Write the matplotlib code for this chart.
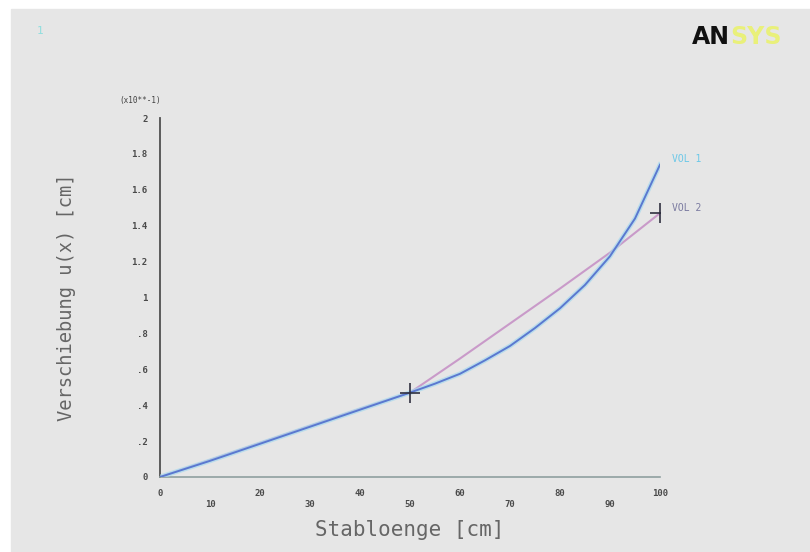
import matplotlib
matplotlib.use("Agg")
import matplotlib.pyplot as plt
from matplotlib.patches import Rectangle

# data (y values in units of 10**-1 cm)
x_vol1 = [0, 10, 20, 30, 40, 50, 55, 60, 65, 70, 75, 80, 85, 90, 95, 100]
y_vol1 = [0, 0.09, 0.185, 0.28, 0.375, 0.47, 0.52, 0.575, 0.65, 0.73, 0.83, 0.94, 1.07, 1.23, 1.44, 1.74]
x_vol2 = [0, 10, 20, 30, 40, 50, 60, 70, 80, 90, 100]
y_vol2 = [0, 0.095, 0.19, 0.285, 0.38, 0.47, 0.66, 0.855, 1.05, 1.25, 1.47]
mark_x = [50, 100]
mark_y = [0.47, 1.47]
xticks = [0, 10, 20, 30, 40, 50, 60, 70, 80, 90, 100]
yticks = [0, 0.2, 0.4, 0.6, 0.8, 1.0, 1.2, 1.4, 1.6, 1.8, 2.0]
ylabels = ["0", ".2", ".4", ".6", ".8", "1", "1.2", "1.4", "1.6", "1.8", "2"]

W, H = 810, 552
fig = plt.figure(figsize=(W / 100, H / 100), dpi=100)
fig.patch.set_facecolor("white")
bg = Rectangle((11 / W, 0), 1 - 11 / W, 1 - 9 / H,
               transform=fig.transFigure, color="#e6e6e6", zorder=-10)
fig.add_artist(bg)

ax = fig.add_axes([160 / W, (H - 477) / H, 500 / W, 359 / H])
ax.patch.set_alpha(0)

mono = "DejaVu Sans Mono"

ax.plot(x_vol2, y_vol2, color="#c99ac9", lw=1.5, zorder=2)
ax.plot(x_vol1, y_vol1, color="#a6d8ee", lw=3.4, alpha=0.7, zorder=3)
ax.plot(x_vol1, y_vol1, color="#5a78d0", lw=1.4, zorder=4)
ax.plot(mark_x, mark_y, ls="none", marker="+", ms=14, mew=1.2, color="#303040", zorder=5)

ax.set_xlim(0, 100)
ax.set_ylim(0, 2)
for s in ["top", "right"]:
    ax.spines[s].set_visible(False)
ax.spines["left"].set_color("#505050")
ax.spines["left"].set_linewidth(1.3)
ax.spines["bottom"].set_color("#8fa0a0")
ax.spines["bottom"].set_linewidth(1.2)

ax.set_xticks(xticks)
ax.set_xticklabels([str(v) if i % 2 == 0 else "\n" + str(v) for i, v in enumerate(xticks)],
                   family=mono, fontsize=6.5, fontweight="bold", color="#4a4a4a")
ax.set_yticks(yticks)
ax.set_yticklabels(ylabels, family=mono, fontsize=6.5, fontweight="bold", color="#4a4a4a")
ax.tick_params(length=0, pad=9)

ax.set_xlabel("Stabloenge [cm]", family=mono, fontsize=15, color="#666666", labelpad=8)
ax.set_ylabel("Verschiebung u(x) [cm]", family=mono, fontsize=13.5, color="#666666", labelpad=40)

ax.text(102.5, 1.77, "VOL 1", family=mono, fontsize=7, color="#6cc8e8", va="center", clip_on=False)
ax.text(102.5, 1.50, "VOL 2", family=mono, fontsize=7, color="#7a7aa0", va="center", clip_on=False)

fig.text(140 / W, 1 - 100 / H, "(x10**-1)", family=mono, fontsize=5.5, color="#404040", ha="center", va="center")
fig.text(40 / W, 1 - 31 / H, "1", family=mono, fontsize=8, color="#8fdede", ha="center", va="center")
fig.text(730 / W, 1 - 37 / H, "AN", fontsize=17, fontweight="bold", color="#111111", ha="right", va="center")
fig.text(730 / W, 1 - 37 / H, "SYS", fontsize=17, fontweight="bold", color="#e9f07a", ha="left", va="center")

fig.savefig("out.png", dpi=100)
